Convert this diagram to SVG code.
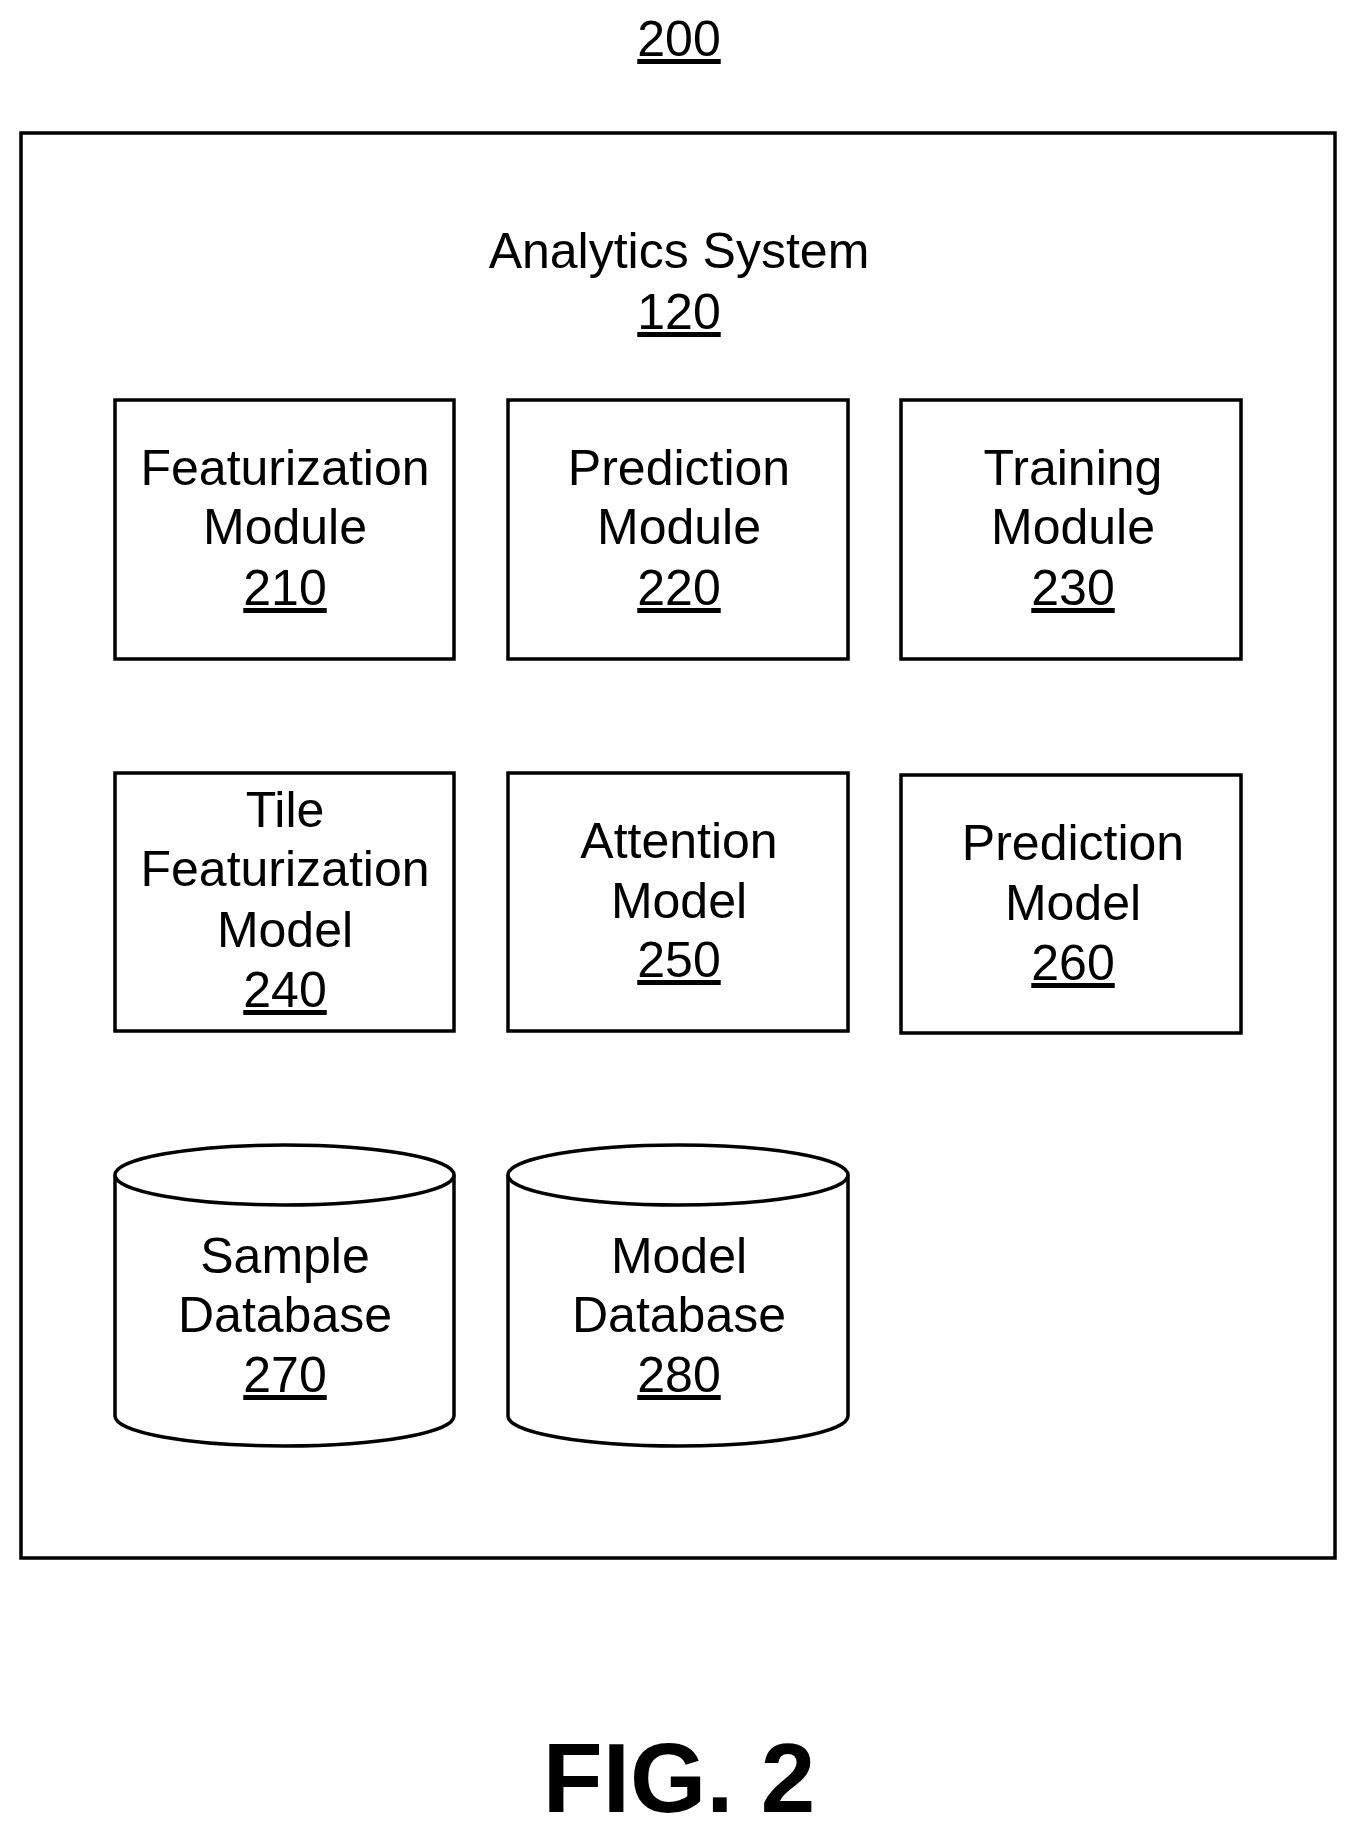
<svg xmlns="http://www.w3.org/2000/svg" width="1358" height="1837" viewBox="0 0 1358 1837">
<style>
.b{fill:#fff;stroke:#000;stroke-width:3.5}
text{font-family:"Liberation Sans",Arial,sans-serif;font-size:50px;text-anchor:middle;fill:#000}
.u{text-decoration:underline}
</style>
<rect width="1358" height="1837" fill="#fff"/>
<text x="679" y="56" class="u">200</text>
<g id="analytics"><rect class="b" x="21" y="133" width="1314" height="1425"/>
<text x="679" y="268">Analytics System</text><text x="679" y="329" class="u">120</text></g>
<g id="n210"><rect class="b" x="115" y="400" width="339" height="259"/>
<text x="285" y="485">Featurization</text><text x="285" y="544">Module</text><text x="285" y="605" class="u">210</text></g>
<g id="n220"><rect class="b" x="508" y="400" width="340" height="259"/>
<text x="679" y="485">Prediction</text><text x="679" y="544">Module</text><text x="679" y="605" class="u">220</text></g>
<g id="n230"><rect class="b" x="901" y="400" width="340" height="259"/>
<text x="1073" y="485">Training</text><text x="1073" y="544">Module</text><text x="1073" y="605" class="u">230</text></g>
<g id="n240"><rect class="b" x="115" y="773" width="339" height="258"/>
<text x="285" y="827">Tile</text><text x="285" y="886">Featurization</text><text x="285" y="947">Model</text><text x="285" y="1007" class="u">240</text></g>
<g id="n250"><rect class="b" x="508" y="773" width="340" height="258"/>
<text x="679" y="858">Attention</text><text x="679" y="918">Model</text><text x="679" y="977" class="u">250</text></g>
<g id="n260"><rect class="b" x="901" y="775" width="340" height="258"/>
<text x="1073" y="860">Prediction</text><text x="1073" y="920">Model</text><text x="1073" y="980" class="u">260</text></g>
<g id="n270"><path class="b" d="M115,1175 A169.5,30 0 0 1 454,1175 L454,1416 A169.5,30 0 0 1 115,1416 Z"/>
<path class="b" fill="none" d="M115,1175 A169.5,30 0 0 0 454,1175"/>
<text x="285" y="1273">Sample</text><text x="285" y="1332">Database</text><text x="285" y="1392" class="u">270</text></g>
<g id="n280"><path class="b" d="M508,1175 A170,30 0 0 1 848,1175 L848,1416 A170,30 0 0 1 508,1416 Z"/>
<path class="b" fill="none" d="M508,1175 A170,30 0 0 0 848,1175"/>
<text x="679" y="1273">Model</text><text x="679" y="1332">Database</text><text x="679" y="1392" class="u">280</text></g>
<g id="connectors"></g>
<text x="679" y="1812" style="font-size:98px;font-weight:bold">FIG. 2</text>
</svg>
